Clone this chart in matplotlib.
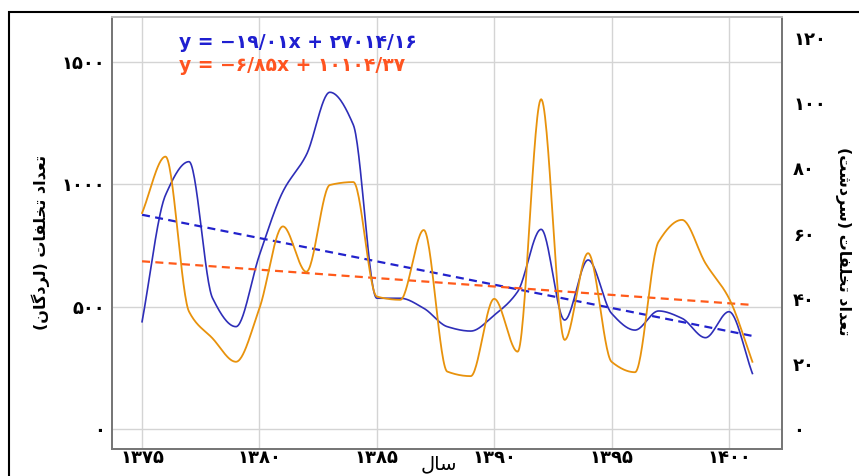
import numpy as np
import matplotlib
matplotlib.use("Agg")
import matplotlib.pyplot as plt
from matplotlib.patches import Rectangle

plt.rcParams['font.family'] = ['DejaVu Sans']

# سال‌ها و تعداد تخلفات
years = list(range(1375, 1402))
lordegan = [439, 956, 1092, 536, 419, 711, 970, 1120, 1375, 1242,
            535, 535, 494, 419, 401, 466, 562, 816, 446, 691,
            473, 405, 483, 453, 374, 480, 228]
sardasht = [66.3, 83.6, 36.1, 27.9, 20.7, 37.1, 62.2, 48.3, 74.9, 75.8,
            40.7, 39.7, 61.1, 17.7, 16.3, 40.0, 23.8, 101.2, 27.4, 54.0,
            20.7, 17.5, 57.5, 64.2, 50.9, 40.2, 20.7]

# ضرایب خط روند (شیب، عرض از مبدا)
trend_lordegan = (-19.01, 27014.16)
trend_sardasht = (-6.85, 10104.37)
eq_lordegan = "y = −۱۹/۰۱x + ۲۷۰۱۴/۱۶"
eq_sardasht = "y = −۶/۸۵x + ۱۰۱۰۴/۳۷"

left_ticks = [0, 500, 1000, 1500]
right_ticks = [0, 20, 40, 60, 80, 100, 120]
x_ticks = [1375, 1380, 1385, 1390, 1395, 1400]

FA_DIGITS = str.maketrans("0123456789", "۰۱۲۳۴۵۶۷۸۹")

# شکل‌های حروف: جدا، پایانی، آغازی، میانی
FORMS = {
    'ا': ('\uFE8D', '\uFE8E', None, None),
    'د': ('\uFEA9', '\uFEAA', None, None),
    'ر': ('\uFEAD', '\uFEAE', None, None),
    'ت': ('\uFE95', '\uFE96', '\uFE97', '\uFE98'),
    'ع': ('\uFEC9', '\uFECA', '\uFECB', '\uFECC'),
    'خ': ('\uFEA5', '\uFEA6', '\uFEA7', '\uFEA8'),
    'ل': ('\uFEDD', '\uFEDE', '\uFEDF', '\uFEE0'),
    'ف': ('\uFED1', '\uFED2', '\uFED3', '\uFED4'),
    'ن': ('\uFEE5', '\uFEE6', '\uFEE7', '\uFEE8'),
    'س': ('\uFEB1', '\uFEB2', '\uFEB3', '\uFEB4'),
    'ش': ('\uFEB5', '\uFEB6', '\uFEB7', '\uFEB8'),
    'گ': ('\uFB92', '\uFB93', '\uFB94', '\uFB95'),
}


def fa(text):
    """اتصال حروف فارسی و برگرداندن ترتیب برای رسم چپ به راست"""
    out = []
    for i, ch in enumerate(text):
        if ch not in FORMS:
            out.append(ch)
            continue
        prev = text[i - 1] if i > 0 else None
        nxt = text[i + 1] if i + 1 < len(text) else None
        join_prev = prev in FORMS and FORMS[prev][2] is not None
        join_next = nxt in FORMS and FORMS[ch][2] is not None
        iso, fin, ini, med = FORMS[ch]
        if join_prev and join_next:
            out.append(med)
        elif join_prev:
            out.append(fin)
        elif join_next:
            out.append(ini)
        else:
            out.append(iso)
    mirror = {'(': ')', ')': '('}
    return ''.join(mirror.get(c, c) for c in reversed(out))


def smooth(x, y, n=30):
    """منحنی هموار یکنوا (PCHIP) از میان نقاط"""
    x = np.asarray(x, float)
    y = np.asarray(y, float)
    h = np.diff(x)
    d = np.diff(y) / h
    m = np.zeros_like(y)
    for k in range(1, len(y) - 1):
        if d[k - 1] * d[k] > 0:
            w1 = 2 * h[k] + h[k - 1]
            w2 = h[k] + 2 * h[k - 1]
            m[k] = (w1 + w2) / (w1 / d[k - 1] + w2 / d[k])
    m[0] = d[0]
    m[-1] = d[-1]
    t = np.linspace(0, 1, n, endpoint=False)
    h00 = 2 * t ** 3 - 3 * t ** 2 + 1
    h10 = t ** 3 - 2 * t ** 2 + t
    h01 = -2 * t ** 3 + 3 * t ** 2
    h11 = t ** 3 - t ** 2
    xs, ys = [], []
    for k in range(len(x) - 1):
        xs.append(x[k] + t * h[k])
        ys.append(h00 * y[k] + h10 * h[k] * m[k] + h01 * y[k + 1] + h11 * h[k] * m[k + 1])
    xs.append([x[-1]])
    ys.append([y[-1]])
    return np.concatenate(xs), np.concatenate(ys)


fig = plt.figure(figsize=(8.59, 4.76), dpi=100)
ax = fig.add_axes([112 / 859, 1 - 449 / 476, 670 / 859, 432 / 476])
ax2 = ax.twinx()

blue = '#2e2eb8'
orange = '#e8920c'

sx, sy = smooth(years, lordegan)
ax.plot(sx, sy, color=blue, lw=1.2, zorder=3)
sx, sy = smooth(years, sardasht)
ax2.plot(sx, sy, color=orange, lw=1.3, zorder=3)

yr = np.array([years[0], years[-1]], float)
ax.plot(yr, trend_lordegan[0] * yr + trend_lordegan[1], color='#2222cc',
        lw=1.6, ls=(0, (3.6, 2.4)), zorder=4)
ax.plot(yr, trend_sardasht[0] * yr + trend_sardasht[1], color='#ff5a1a',
        lw=1.6, ls=(0, (3.6, 2.4)), zorder=4)

ax.set_xlim(1373.72, 1402.26)
ax.set_ylim(-80, 1682)
ax2.set_ylim(-6.04, 126.4)

ax.set_xticks(x_ticks)
ax.set_xticklabels([str(v).translate(FA_DIGITS) for v in x_ticks])
ax.set_yticks(left_ticks)
ax.set_yticklabels([str(v).translate(FA_DIGITS) for v in left_ticks])
ax2.set_yticks(right_ticks)
ax2.set_yticklabels([str(v).translate(FA_DIGITS) for v in right_ticks])

ax.grid(True, color='#d4d4d4', lw=1.0)
ax.set_axisbelow(True)
ax.tick_params(axis='both', length=0, labelsize=13)
ax.tick_params(axis='x', pad=0)
ax.tick_params(axis='y', pad=5)
ax2.tick_params(axis='y', length=0, labelsize=13, pad=8)
for lab in ax.get_xticklabels() + ax.get_yticklabels() + ax2.get_yticklabels():
    lab.set_fontweight('bold')

for a in (ax, ax2):
    for side, sp in a.spines.items():
        sp.set_color('#777777')
        sp.set_linewidth(1.4)
ax.spines['top'].set_color('#bbbbbb')
ax2.spines['top'].set_color('#bbbbbb')

# عنوان محورها
fig.text(41 / 859, 1 - 243 / 476, fa("تعداد تخلفات (لردگان)"), fontsize=11.5,
         fontweight='bold', rotation=90, ha='center', va='center')
fig.text(843 / 859, 1 - 241 / 476, fa("تعداد تخلفات (سردشت)"), fontsize=11.5,
         fontweight='bold', rotation=270, ha='center', va='center')
fig.text(439 / 859, 1 - 464 / 476, fa("سال"), fontsize=14,
         ha='center', va='center')

ax.text(0.1, 0.940, eq_lordegan, transform=ax.transAxes, color='#1f1fd0',
        fontsize=13.5, fontweight='bold', va='center', ha='left')
ax.text(0.1, 0.887, eq_sardasht, transform=ax.transAxes, color='#ff5420',
        fontsize=13.5, fontweight='bold', va='center', ha='left')

# قاب بیرونی
fig.patches.append(Rectangle((9 / 859, -0.1), 1.2, 1 - 12 / 476 + 0.1,
                             transform=fig.transFigure, fill=False,
                             edgecolor='black', lw=1.5))

fig.savefig('out.png', dpi=100)
